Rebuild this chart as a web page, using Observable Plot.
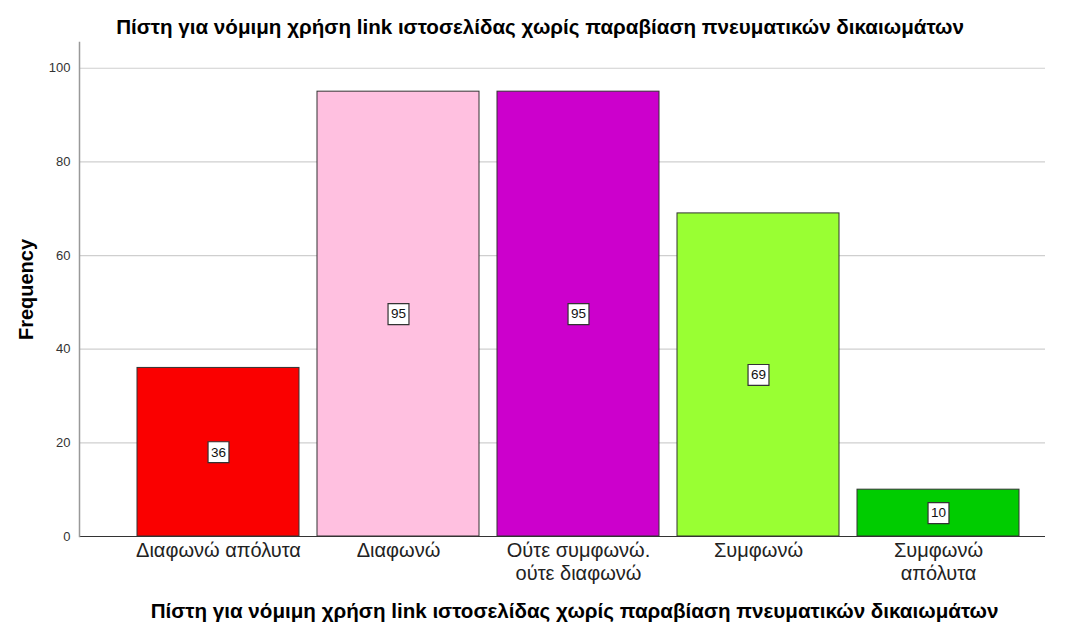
<!DOCTYPE html>
<html>
<head>
<meta charset="utf-8">
<script src="https://cdn.jsdelivr.net/npm/d3@7"></script>
<script src="https://cdn.jsdelivr.net/npm/@observablehq/plot@0.6"></script>
<style>
  html, body { margin: 0; padding: 0; background: #fff; }
  body { width: 1065px; height: 628px; position: relative; overflow: hidden; font-family: "Liberation Sans", Arial, sans-serif; }
  .title { position: absolute; left: 0; width: 1065px; text-align: center; font-weight: bold; font-size: 20.6px; color: #000; line-height: 22px; white-space: nowrap; box-sizing: border-box; }
  #top { top: 16px; padding-left: 15px; }
  #bottom { top: 600px; padding-left: 84px; }
  #chart { position: absolute; left: 0; top: 40px; }
  #chart svg { font-family: "Liberation Sans", Arial, sans-serif; overflow: visible; }
  [aria-label="y-axis label"] text { font-weight: bold; font-size: 20px; fill: #000; }
  [aria-label="y-axis tick label"] text { fill: #333; }
  [aria-label="x-axis tick label"] text { fill: #222; }
</style>
</head>
<body>
<div class="title" id="top">Πίστη για νόμιμη χρήση link ιστοσελίδας χωρίς παραβίαση πνευματικών δικαιωμάτων</div>
<div id="chart"></div>
<div class="title" id="bottom">Πίστη για νόμιμη χρήση link ιστοσελίδας χωρίς παραβίαση πνευματικών δικαιωμάτων</div>
<script>
const categories = ["Διαφωνώ απόλυτα", "Διαφωνώ", "Ούτε συμφωνώ.\nούτε διαφωνώ", "Συμφωνώ", "Συμφωνώ\nαπόλυτα"];
const frequencies = [36, 95, 95, 69, 10];
const barColors = ["#fa0000", "#ffc0e0", "#cc00cc", "#99ff33", "#00cc00"];
const yTicks = [0, 20, 40, 60, 80, 100];

const data = categories.map((c, i) => ({category: c, value: frequencies[i], color: barColors[i]}));

const chart = Plot.plot({
  width: 1065,
  height: 548,
  marginTop: 2,
  marginBottom: 52,
  marginLeft: 79,
  marginRight: 20,
  style: {fontSize: "13px", fontFamily: "Liberation Sans, Arial, sans-serif"},
  x: {domain: categories, paddingInner: 0.1, paddingOuter: 0.05, insetLeft: 49, insetRight: 17, label: null},
  y: {domain: [0, 105.5], label: null},
  marks: [
    Plot.ruleY(yTicks.filter(d => d > 0), {stroke: "#cfcfcf", strokeWidth: 1.2}),
    Plot.barY(data, {x: "category", y: "value", fill: "color", stroke: "#333", strokeWidth: 1}),
    Plot.ruleY([0], {stroke: "#333", strokeWidth: 1.2}),
    Plot.frame({anchor: "left", stroke: "#999", strokeWidth: 1.5}),
    Plot.axisY({ticks: yTicks, tickSize: 0, tickPadding: 9, fontSize: 13, label: "Frequency", labelAnchor: "center", labelOffset: 61, labelArrow: "none"}),
    Plot.axisX({tickSize: 0, tickPadding: 4, fontSize: 20, lineHeight: 1.15, label: null}),
    Plot.dot(data, {x: "category", y: d => d.value / 2, symbol: "square", r: 11.8, fill: "white", stroke: "#333", strokeWidth: 1.2}),
    Plot.text(data, {x: "category", y: d => d.value / 2, text: d => String(d.value), fontSize: 13.5, fill: "#111"})
  ]
});
document.getElementById("chart").appendChild(chart);
</script>
</body>
</html>
